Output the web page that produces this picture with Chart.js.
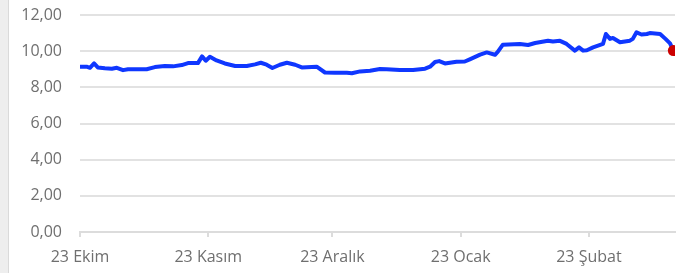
<!DOCTYPE html>
<html>
<head>
<meta charset="utf-8">
<script src="https://cdn.jsdelivr.net/npm/chart.js@4/dist/chart.umd.min.js"></script>
<style>
  html, body { margin: 0; padding: 0; background: #ffffff; }
  #wrap { position: relative; width: 692px; height: 273px; overflow: hidden; }
  #strip { position: absolute; left: 0; top: 0; width: 8px; height: 273px; background: #eeeeee; border-right: 1px solid #dadada; }
  canvas { position: absolute; left: 0; top: 0; }
</style>
</head>
<body>
<div id="wrap">
  <div id="strip"></div>
  <canvas id="c" width="692" height="273"></canvas>
</div>
<script>
// Days since 23 Ekim
const dayOffsets = [0, 1.6, 2.4, 3.4, 4.3, 6.0, 7.7, 8.9, 10.4, 11.6, 16.1, 18.1, 20.5, 22.5, 24.6, 26.1, 28.5, 29.5, 30.4, 31.4,
  33.0, 35.0, 37.5, 40.3, 42.3, 43.7, 45.1, 46.5, 48.3, 50.0, 52.0, 53.6, 57.2, 59.2, 61.6, 64.5, 65.7, 67.7, 70.1, 72.5,
  74.1, 77.3, 80.5, 83.4, 84.6, 85.8, 86.8, 88.2, 91.0, 93.0, 94.2, 96.7, 98.3, 100.3, 101.0, 102.2, 106.3, 108.3, 110.0, 113.1,
  114.3, 116.0, 117.6, 119.6, 120.6, 121.6, 122.5, 124.0, 126.4, 127.1, 128.1, 128.8, 130.5, 132.9, 133.6, 134.5, 135.7, 137.0, 137.7, 140.2,
  141.5, 142.6, 143.4];
const values = [9.14, 9.14, 9.08, 9.32, 9.10, 9.05, 9.03, 9.08, 8.95, 9.00, 9.00, 9.12, 9.18, 9.16, 9.23, 9.34, 9.34, 9.71, 9.47, 9.69,
  9.49, 9.32, 9.18, 9.18, 9.27, 9.36, 9.25, 9.07, 9.25, 9.36, 9.25, 9.10, 9.14, 8.82, 8.80, 8.80, 8.78, 8.88, 8.92, 9.01,
  9.00, 8.96, 8.96, 9.03, 9.14, 9.40, 9.45, 9.32, 9.42, 9.43, 9.55, 9.81, 9.93, 9.80, 9.97, 10.36, 10.40, 10.34, 10.45, 10.58,
  10.53, 10.57, 10.40, 10.03, 10.21, 10.03, 10.05, 10.21, 10.40, 10.95, 10.68, 10.73, 10.49, 10.58, 10.68, 11.04, 10.92, 10.95, 11.00, 10.95,
  10.68, 10.43, 10.03];
const tickDays = [0, 31, 61, 92, 123];
const tickLabels = ["23 Ekim", "23 Kasım", "23 Aralık", "23 Ocak", "23 Şubat"];
const yTicks = [0, 2, 4, 6, 8, 10, 12];

const points = dayOffsets.map((d, i) => ({ x: d, y: values[i] }));
const radii = values.map((v, i) => i === values.length - 1 ? 5.5 : 0);

Chart.defaults.font.family = "'Open Sans', sans-serif";
Chart.defaults.font.size = 16;
Chart.defaults.color = '#6f6f6f';

new Chart(document.getElementById('c'), {
  type: 'line',
  data: {
    datasets: [{
      data: points,
      borderColor: '#0f37ff',
      borderWidth: 4,
      tension: 0,
      pointRadius: radii,
      pointHoverRadius: radii,
      pointBackgroundColor: '#cc0000',
      pointBorderColor: '#cc0000',
      pointBorderWidth: 0,
      borderJoinStyle: 'round',
      borderCapStyle: 'round'
    }]
  },
  options: {
    responsive: false,
    animation: false,
    events: [],
    layout: { padding: { top: 15, right: 17, left: 0, bottom: 0 } },
    plugins: { legend: { display: false }, tooltip: { enabled: false } },
    scales: {
      x: {
        type: 'linear',
        min: dayOffsets[0],
        max: dayOffsets[dayOffsets.length - 1] + 0.4,
        afterFit: s => { s.height = 41; s.paddingLeft = 0; s.paddingRight = 0; s.paddingTop = 0; s.paddingBottom = 0; },
        afterBuildTicks: s => { s.ticks = tickDays.map(v => ({ value: v })); },
        ticks: {
          autoSkip: false,
          maxRotation: 0,
          padding: 11,
          callback: (v) => { const i = tickDays.indexOf(v); return i >= 0 ? tickLabels[i] : ''; }
        },
        grid: { drawOnChartArea: false, drawTicks: true, tickLength: 5, color: '#dcdcdc', lineWidth: 2 },
        border: { display: true, color: '#dcdcdc', width: 2 }
      },
      y: {
        min: 0,
        max: 12,
        afterFit: s => { s.width = 80; s.paddingTop = 0; s.paddingBottom = 0; s.paddingLeft = 0; s.paddingRight = 0; },
        afterBuildTicks: s => { s.ticks = yTicks.map(v => ({ value: v })); },
        ticks: {
          padding: 18,
          callback: v => v.toFixed(2).replace('.', ',')
        },
        grid: { drawTicks: false, color: '#e2e2e2', lineWidth: 2 },
        border: { display: false }
      }
    }
  }
});
</script>
</body>
</html>
